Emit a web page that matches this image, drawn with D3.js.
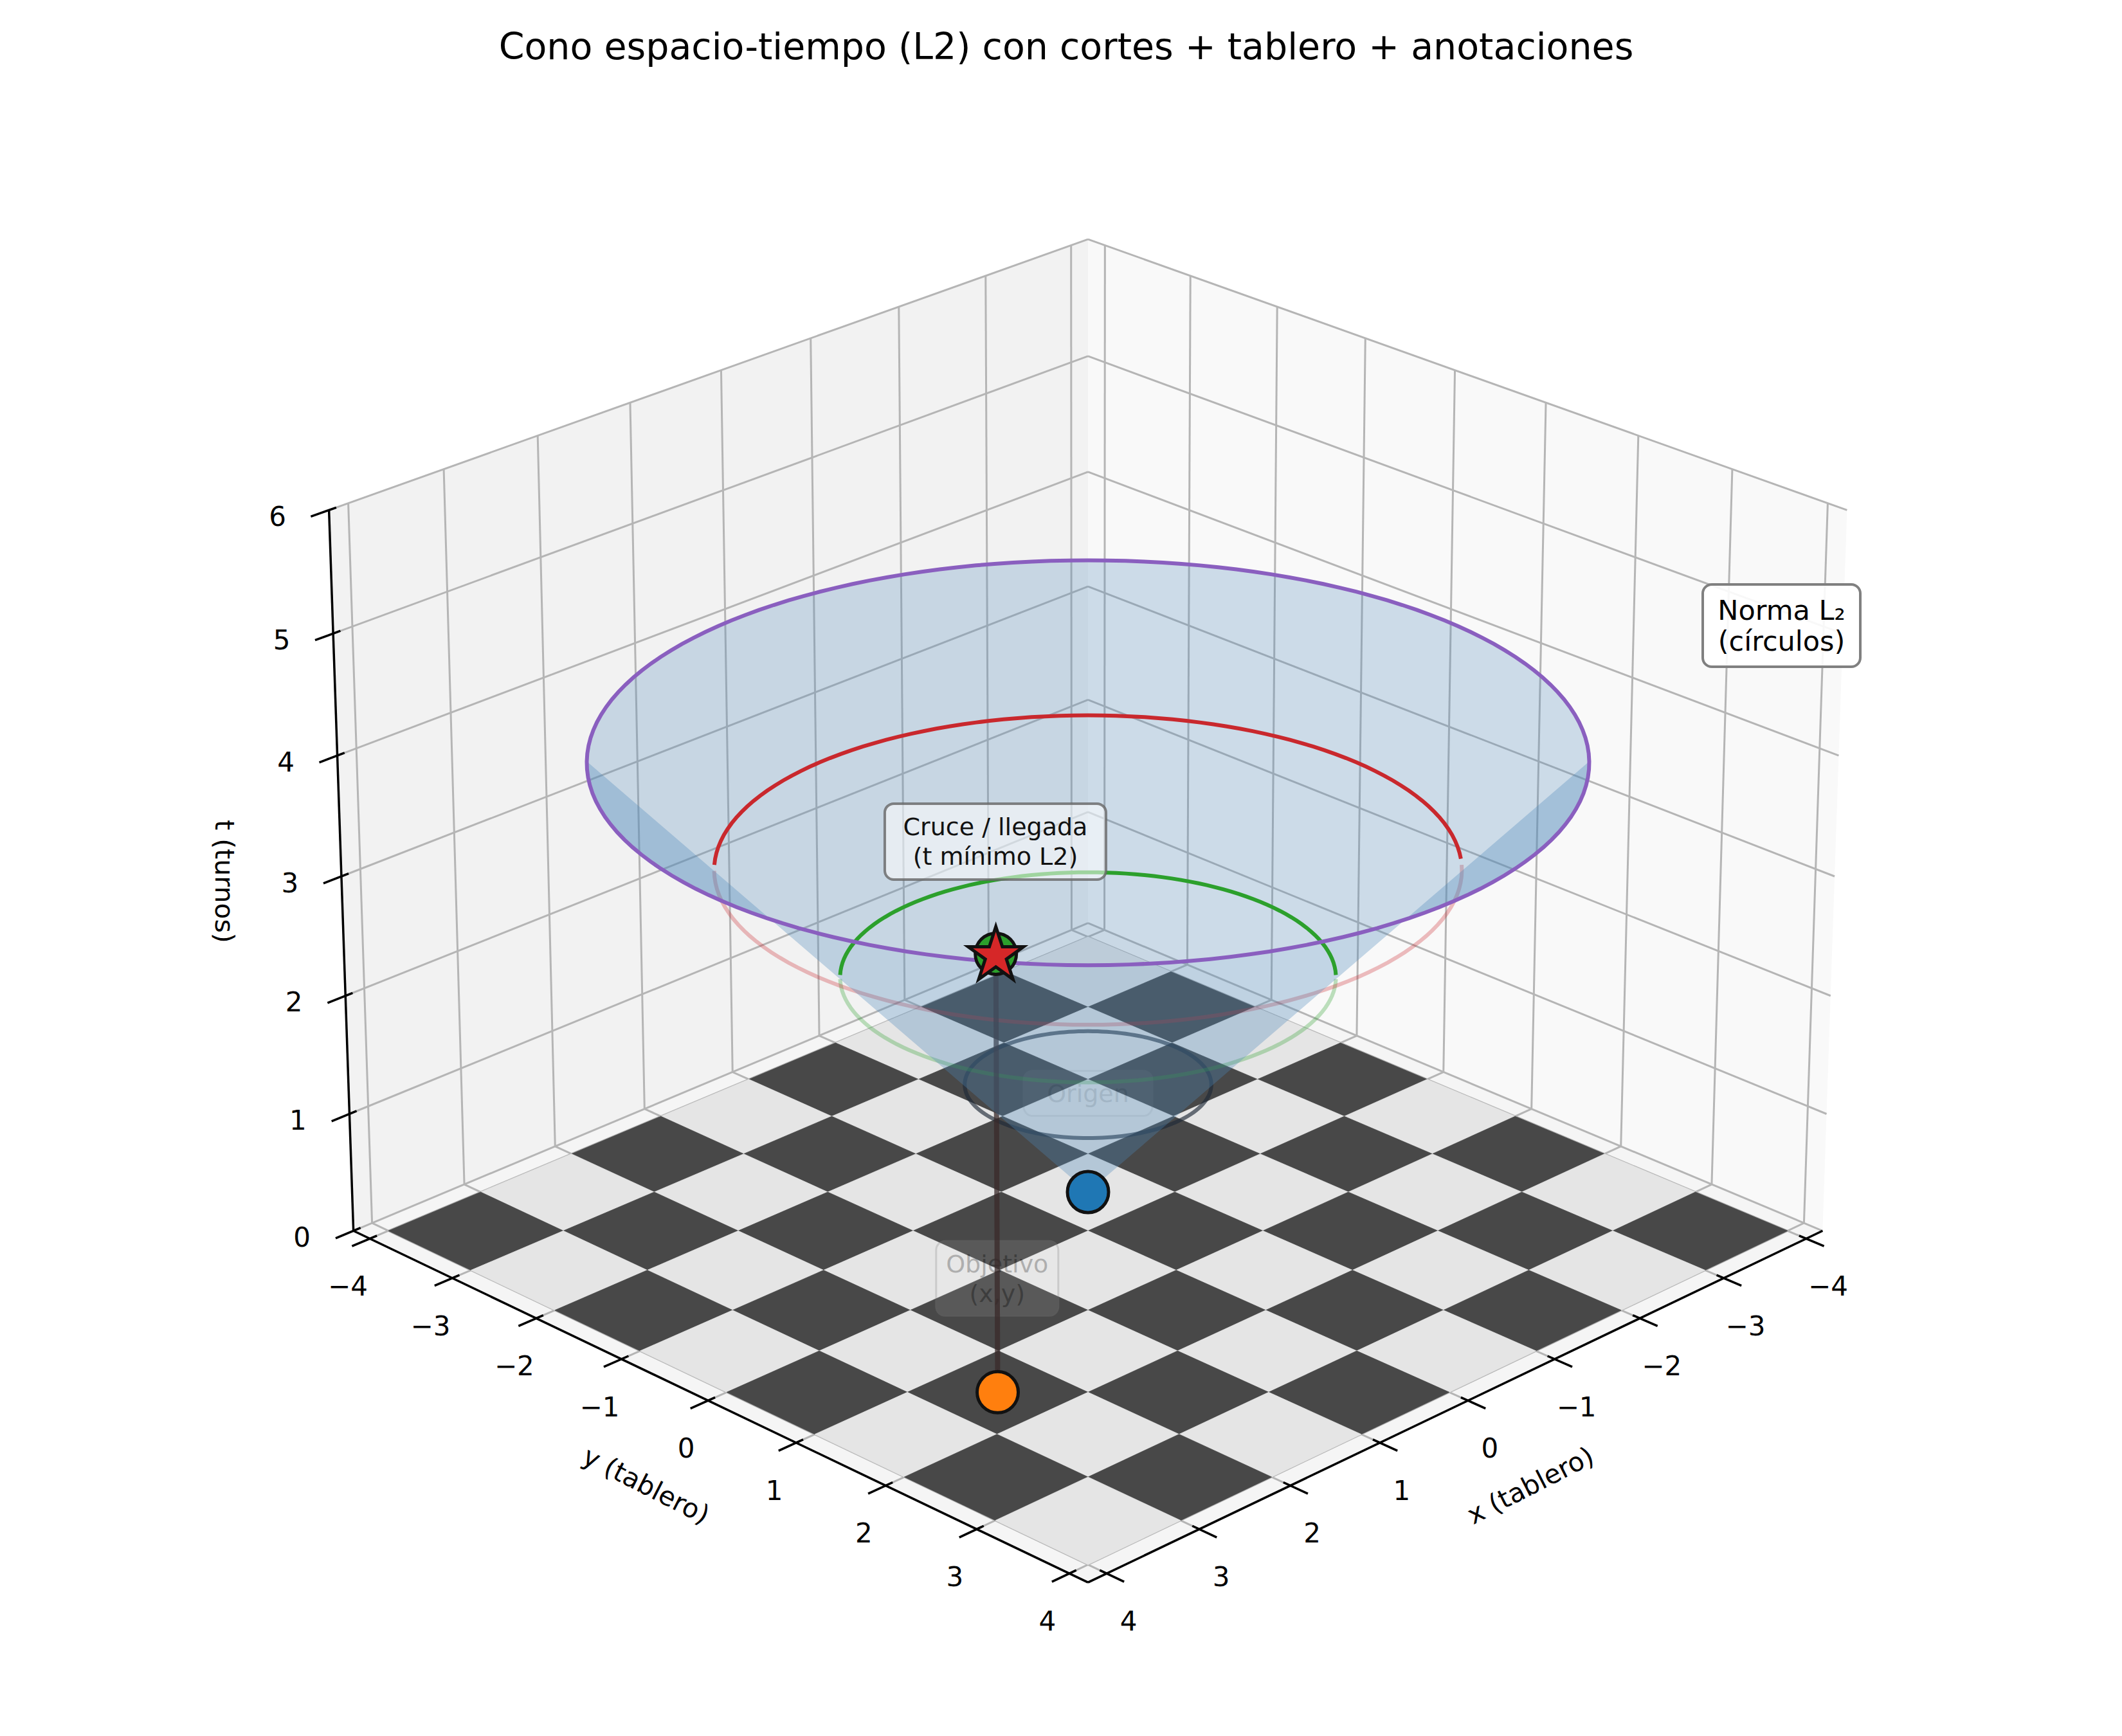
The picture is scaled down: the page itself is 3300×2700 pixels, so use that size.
<!DOCTYPE html>
<html>
<head>
<meta charset="utf-8">
<script src="https://cdn.jsdelivr.net/npm/d3@7"></script>
<style>
  body { margin: 0; background: #fff; }
  text { font-family: "DejaVu Sans", sans-serif; }
</style>
</head>
<body>
<svg id="chart" width="3300" height="2700"></svg>
<script>
// data
const xTicks = [-4, -3, -2, -1, 0, 1, 2, 3, 4]
const yTicks = [-4, -3, -2, -1, 0, 1, 2, 3, 4]
const tTicks = [0, 1, 2, 3, 4, 5, 6]
const origin = [-0.5, -0.5]
const target = [2.5, 1.5]
const tStar = Math.hypot(target[0] - origin[0], target[1] - origin[1])
const coneSlope = 0.93         // t per unit of radius
const cutRadii = [1, 2, 3, 4]
const cutColors = ["#1e2a38", "#2ca02c", "#c9282d", "#8a5fbf"]
const boardCells = d3.range(-4, 4)

const svg = d3.select("#chart")

// 3d view (azim 45, elev ~24.5, light perspective)
const elev = 24.5 * Math.PI / 180
const se = Math.sin(elev), ce = Math.cos(elev)
const dist = 19, K = 821, CX = 1692, CY = 1363
const sx = d3.scaleLinear().domain([-4.2, 4.2]).range([-1, 1])
const sy = d3.scaleLinear().domain([-4.2, 4.2]).range([-1, 1])
const st = d3.scaleLinear().domain([0, 6]).range([-0.75, 0.75])

const depth = (x, y, t) => ce * (sx(x) + sy(y)) / Math.SQRT2 + se * st(t)
const proj = (x, y, t) => {
    const X = sx(x), Y = sy(y), Z = st(t)
    const u = (Y - X) / Math.SQRT2
    const w = (X + Y) / Math.SQRT2
    const v = -se * w + ce * Z
    const f = dist / (dist - (ce * w + se * Z))
    return [CX + K * u * f, CY - K * v * f]
}
const line = d3.line()
const poly = pts => line(pts) + "Z"

// panes
const L = 4.2
svg.append("path").attr("d", poly([proj(-L, -L, 0), proj(L, -L, 0), proj(L, -L, 6), proj(-L, -L, 6)]))
    .attr("fill", "#f2f2f2")
svg.append("path").attr("d", poly([proj(-L, -L, 0), proj(-L, L, 0), proj(-L, L, 6), proj(-L, -L, 6)]))
    .attr("fill", "#f9f9f9")
svg.append("path").attr("d", poly([proj(-L, -L, 0), proj(L, -L, 0), proj(L, L, 0), proj(-L, L, 0)]))
    .attr("fill", "#f5f5f5")

// grid
const grid = svg.append("g").attr("stroke", "#b5b5b5").attr("stroke-width", 3).attr("fill", "none")
xTicks.forEach(x => {
    grid.append("path").attr("d", line([proj(x, -L, 0), proj(x, -L, 6)]))
    grid.append("path").attr("d", line([proj(x, -L, 0), proj(x, L, 0)]))
})
yTicks.forEach(y => {
    grid.append("path").attr("d", line([proj(-L, y, 0), proj(-L, y, 6)]))
    grid.append("path").attr("d", line([proj(-L, y, 0), proj(L, y, 0)]))
})
tTicks.forEach(t => {
    grid.append("path").attr("d", line([proj(-L, -L, t), proj(L, -L, t)]))
    grid.append("path").attr("d", line([proj(-L, -L, t), proj(-L, L, t)]))
})

// board
boardCells.forEach(i => boardCells.forEach(j => {
    const dark = ((i + 4) + (j + 4)) % 2 === 1
    svg.append("path")
        .attr("d", poly([proj(i, j, 0), proj(i + 1, j, 0), proj(i + 1, j + 1, 0), proj(i, j + 1, 0)]))
        .attr("fill", dark ? "#484848" : "#e5e5e5")
        .attr("stroke", dark ? "#484848" : "#e5e5e5").attr("stroke-width", 0.8)
}))

// faded labels under the cone
const fadedLabel = (x, y, t, lines, op) => {
    const [px, py] = proj(x, y, t)
    const g = svg.append("g").attr("opacity", op)
    const bw = 190 + (lines.length > 1 ? 0 : 10), bh = lines.length * 46 + 24
    g.append("rect").attr("x", px - bw / 2).attr("y", py - bh / 2).attr("width", bw).attr("height", bh)
        .attr("rx", 14).attr("fill", "#fff").attr("fill-opacity", 0.35).attr("stroke", "#888").attr("stroke-width", 3)
    lines.forEach((s, k) => g.append("text").attr("x", px).attr("y", py - (lines.length - 1) * 23 + k * 46)
        .attr("dy", "0.35em").attr("text-anchor", "middle").attr("font-size", 38).attr("fill", "#222").text(s))
}
fadedLabel(target[0], target[1], 0.95, ["Objetivo", "(x,y)"], 0.28)

// rings
const N = 160
const ring = r => d3.range(N + 1).map(k => {
    const a = 2 * Math.PI * k / N
    return [origin[0] + r * Math.cos(a), origin[1] + r * Math.sin(a), coneSlope * r]
})
const dC = t => depth(origin[0], origin[1], t)
const arcPart = (pts, front) => {
    const runs = []; let cur = []
    pts.forEach(p => {
        const isFront = depth(...p) > dC(p[2])
        if (isFront === front) cur.push(proj(...p))
        else { if (cur.length) runs.push(cur); cur = [] }
    })
    if (cur.length) runs.push(cur)
    return runs.map(r => line(r)).join("")
}

// smallest cut: fully inside the cone
svg.append("path").attr("d", line(ring(cutRadii[0]).map(p => proj(...p)))).attr("fill", "none")
    .attr("stroke", cutColors[0]).attr("stroke-width", 6).attr("opacity", 0.65)
// front arcs (hidden behind cone wall)
cutRadii.slice(1, 3).forEach((r, i) => {
    svg.append("path").attr("d", arcPart(ring(r), true)).attr("fill", "none")
        .attr("stroke", cutColors[i + 1]).attr("stroke-width", 6).attr("opacity", 0.3)
})
svg.append("path").attr("d", line([proj(target[0], target[1], 0), proj(target[0], target[1], tStar)]))
    .attr("stroke", "#3a2a2a").attr("stroke-width", 8).attr("opacity", 0.75)

fadedLabel(origin[0], origin[1], 0.85, ["Origen"], 0.13)

// cone wall
const rMax = cutRadii[cutRadii.length - 1]
const apex = proj(origin[0], origin[1], 0)
const rim = ring(rMax)
const coneColor = "#4f88bb"
svg.append("path").attr("d", poly([apex, ...rim.map(p => proj(...p))]))
    .attr("fill", coneColor).attr("fill-opacity", 0.26)
const frontRim = rim.filter(p => depth(...p) > dC(p[2])).map(p => proj(...p)).sort((a, b) => a[0] - b[0])
svg.append("path").attr("d", poly([apex, ...frontRim]))
    .attr("fill", coneColor).attr("fill-opacity", 0.32)

// back arcs (seen through the opening)
cutRadii.slice(1, 3).forEach((r, i) => {
    svg.append("path").attr("d", arcPart(ring(r), false)).attr("fill", "none")
        .attr("stroke", cutColors[i + 1]).attr("stroke-width", 6)
})
// rim
svg.append("path").attr("d", line(rim.map(p => proj(...p)))).attr("fill", "none")
    .attr("stroke", cutColors[3]).attr("stroke-width", 6)

// markers
const dot = (x, y, t, fill, r) => {
    const [px, py] = proj(x, y, t)
    svg.append("circle").attr("cx", px).attr("cy", py).attr("r", r)
        .attr("fill", fill).attr("stroke", "#111").attr("stroke-width", 5)
}
dot(origin[0], origin[1], 0, "#1f77b4", 32)
dot(target[0], target[1], 0, "#ff7f0e", 32)
dot(target[0], target[1], tStar, "#2ca02c", 32)
{
    const [px, py] = proj(target[0], target[1], tStar)
    svg.append("path").attr("d", d3.symbol(d3.symbolStar, 2300)())
        .attr("transform", `translate(${px},${py + 3})`)
        .attr("fill", "#d62728").attr("stroke", "#111").attr("stroke-width", 5)
}

// label: cruce
{
    const [px, py] = proj(target[0], target[1], tStar + 0.9)
    const bw = 344, bh = 118
    svg.append("rect").attr("x", px - bw / 2).attr("y", py - bh / 2).attr("width", bw).attr("height", bh)
        .attr("rx", 14).attr("fill", "#fff").attr("fill-opacity", 0.55)
        .attr("stroke", "#666").attr("stroke-opacity", 0.8).attr("stroke-width", 4)
    ;["Cruce / llegada", "(t mínimo L2)"].forEach((s, k) =>
        svg.append("text").attr("x", px).attr("y", py - 23 + k * 46).attr("dy", "0.35em")
            .attr("text-anchor", "middle").attr("font-size", 38).attr("fill", "#111").text(s))
}

// axes
const axisG = svg.append("g").attr("stroke", "#000").attr("stroke-width", 3.5).attr("fill", "none")
axisG.append("path").attr("d", line([proj(-L, L, 0), proj(L, L, 0)]))
axisG.append("path").attr("d", line([proj(L, -L, 0), proj(L, L, 0)]))
axisG.append("path").attr("d", line([proj(L, -L, 0), proj(L, -L, 6)]))

const tickMark = (p, dir, outer, inner) => {
    const q = [p[0] + dir[0], p[1] + dir[1], p[2] + dir[2]]
    const a = proj(...p), b = proj(...q)
    const dx = b[0] - a[0], dy = b[1] - a[1], n = Math.hypot(dx, dy)
    axisG.append("path").attr("d", line([[a[0] - dx / n * inner, a[1] - dy / n * inner],
        [a[0] + dx / n * outer, a[1] + dy / n * outer]]))
    return a
}
const fmt = v => v < 0 ? "\u2212" + Math.abs(v) : String(v)
const lab = svg.append("g").attr("font-size", 42).attr("fill", "#000").attr("text-anchor", "middle")
xTicks.forEach(x => {
    const a = tickMark([x, L, 0], [0, 1, 0], 30, 12)
    lab.append("text").attr("x", a[0] + 34).attr("y", a[1] + 74).attr("dy", "0.35em").text(fmt(x))
})
yTicks.forEach(y => {
    const a = tickMark([L, y, 0], [1, 0, 0], 30, 12)
    lab.append("text").attr("x", a[0] - 34).attr("y", a[1] + 74).attr("dy", "0.35em").text(fmt(y))
})
tTicks.forEach(t => {
    const a = tickMark([L, -L, t], [1, 0, 0], 30, 12)
    lab.append("text").attr("x", a[0] - 80).attr("y", a[1] + 10).attr("dy", "0.35em").text(fmt(t))
})

svg.append("text").attr("transform", "translate(1005,2310) rotate(27)").attr("text-anchor", "middle")
    .attr("dy", "0.35em").attr("font-size", 41).text("y (tablero)")
svg.append("text").attr("transform", "translate(2380,2310) rotate(-27)").attr("text-anchor", "middle")
    .attr("dy", "0.35em").attr("font-size", 41).text("x (tablero)")
svg.append("text").attr("transform", "translate(349,1371) rotate(90)").attr("text-anchor", "middle")
    .attr("dy", "0.35em").attr("font-size", 41).text("t (turnos)")

// norma box
{
    const bx = 2648, by = 909, bw = 245, bh = 128
    svg.append("rect").attr("x", bx).attr("y", by).attr("width", bw).attr("height", bh)
        .attr("rx", 14).attr("fill", "#fff").attr("fill-opacity", 0.9).attr("stroke", "#808080").attr("stroke-width", 4)
    ;["Norma L\u2082", "(círculos)"].forEach((s, k) =>
        svg.append("text").attr("x", bx + bw / 2).attr("y", by + 40 + k * 48).attr("dy", "0.35em")
            .attr("text-anchor", "middle").attr("font-size", 43).text(s))
}

svg.append("text").attr("x", 1658).attr("y", 72).attr("dy", "0.35em").attr("text-anchor", "middle")
    .attr("font-size", 57).text("Cono espacio-tiempo (L2) con cortes + tablero + anotaciones")
</script>
</body>
</html>
